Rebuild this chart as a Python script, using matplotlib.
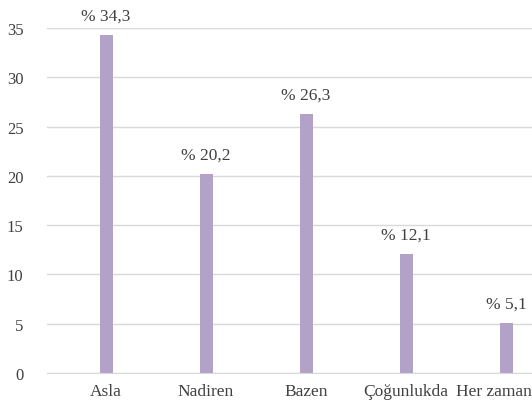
import matplotlib
matplotlib.use("Agg")
import matplotlib.pyplot as plt
import matplotlib.transforms as mtransforms

categories = ["Asla", "Nadiren", "Bazen", "Çoğunlukda", "Her zaman"]
values = [34.3, 20.2, 26.3, 12.1, 5.1]
labels = ["% 34,3", "% 20,2", "% 26,3", "% 12,1", "% 5,1"]

plt.rcParams['font.family'] = ['Liberation Serif', 'DejaVu Serif']

W, H = 532, 410
fig = plt.figure(figsize=(W / 100, H / 100), dpi=100)
ax = fig.add_axes([47 / W, (H - 374) / H, (532 - 47) / W, (374 - 29) / H])

x = list(range(len(categories)))
ax.bar(x, values, width=0.13, color="#b3a2c7", zorder=3)

for xi, v, lab in zip(x, values, labels):
    ax.text(xi, v + 1.1, lab, ha="center", va="bottom", fontsize=12.5,
            color="#404040", clip_on=False)

ax.set_xlim(-0.59, 4.26)
ax.set_ylim(0, 35)
ax.set_yticks(range(0, 36, 5))
ax.set_xticks(x)
ax.set_xticklabels(categories)
ax.grid(axis="y", color="#d9d9d9", linewidth=1, zorder=0)
for s in ["top", "right", "left"]:
    ax.spines[s].set_visible(False)
ax.spines["bottom"].set_color("#d9d9d9")
ax.tick_params(length=0, labelcolor="#404040")
ax.tick_params(axis="y", pad=17, labelsize=12)
ax.tick_params(axis="x", pad=7, labelsize=12.5)

# last label pushed left so it fits inside the picture
last = ax.get_xticklabels()[-1]
last.set_horizontalalignment("right")
last.set_transform(last.get_transform() +
                   mtransforms.ScaledTranslation(26 / 100, 0, fig.dpi_scale_trans))

fig.savefig("out.png", dpi=100)
